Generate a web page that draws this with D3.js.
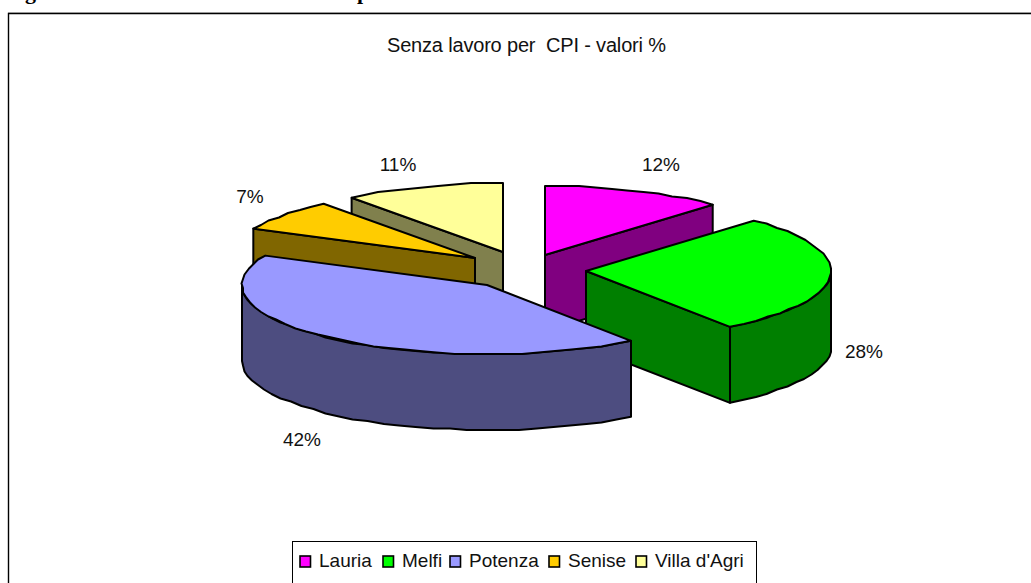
<!DOCTYPE html>
<html><head><meta charset="utf-8">
<script src="https://cdn.jsdelivr.net/npm/d3@7"></script>
<style>html,body{margin:0;padding:0;background:#fff;overflow:hidden}svg{display:block}text{font-family:"Liberation Sans",Arial,sans-serif;fill:#111}</style>
</head><body><svg id="c" width="1031" height="583"></svg>
<script>
const chartTitle = "Senza lavoro per  CPI - valori %";
const categories = ["Lauria","Melfi","Potenza","Senise","Villa d'Agri"];
const values = [12,28,42,7.4,10.6];
const topColors = ["#FF00FF","#00FF00","#9999FF","#FFCC00","#FFFF99"];
const sideColors = ["#800080","#007F00","#4D4D80","#806600","#80804D"];
// exploded-pie layout
const centre = [520,270], radiusX = 245, radiusY = 69, depth = 76;
const explode = [[25,-15],[66,1],[-33,15],[-45,-12],[-17,-18]];
const labelAnchor = [[661,165],[864,352],[302,440],[250,197],[398,165]];
const drawOrder = [4,3,0,1,2];

const svg = d3.select("#c");
// clipped page heading above the frame: only the descenders are visible
[["g",25],["p",357]].forEach(t=>svg.append("text").attr("x",t[1]).attr("y",-1)
  .attr("font-size",22).attr("font-weight","bold").style("font-family","'Liberation Serif',serif").style("fill","#000").text(t[0]));
svg.append("path").attr("d","M8.5 583V13.5H1031").attr("fill","none").attr("stroke","#000").attr("stroke-width",1.4);
svg.append("path").attr("d","M8 12.5H1031").attr("stroke","#999").attr("stroke-width",1);
svg.append("text").attr("x",526.5).attr("y",52).attr("text-anchor","middle")
  .attr("font-size",20).attr("textLength",279).style("white-space","pre").text(chartTitle);

const arcs = d3.pie().sort(null).value(d=>d).startAngle(0).endAngle(2*Math.PI)(values);
const sx = d3.scaleLinear().domain([-1,1]).range([-radiusX,radiusX]);
const sy = d3.scaleLinear().domain([-1,1]).range([radiusY,-radiusY]);
const line = d3.line();
function pt(i,a){
  return [centre[0]+explode[i][0]+sx(Math.sin(a)), centre[1]+explode[i][1]+sy(Math.cos(a))];
}
function rim(i,a0,a1){
  const n = Math.max(2,Math.round((a1-a0)/(4*Math.PI/180)));
  return d3.range(n+1).map(k=>{
    const p = pt(i,a0+(a1-a0)*k/n);
    if(k===0||k===n) return p;
    return [Math.round(p[0]/1.5)*1.5,Math.round(p[1]/1.5)*1.5];
  });
}
const down = p=>[p[0],p[1]+depth];
function face(g,pts,fill){
  g.append("path").attr("d",line(pts)+"Z").attr("fill",fill).attr("stroke","#000")
   .attr("stroke-width",2).attr("stroke-linejoin","round");
}
drawOrder.forEach(i=>{
  const d = arcs[i], g = svg.append("g");
  const apex = [centre[0]+explode[i][0],centre[1]+explode[i][1]];
  const outer = rim(i,d.startAngle,d.endAngle);
  // radial faces turned towards the viewer
  if(Math.sin(d.startAngle)<-1e-6){
    const p = pt(i,d.startAngle);
    face(g,[apex,p,down(p),down(apex)],sideColors[i]);
  }
  if(Math.sin(d.endAngle)>1e-6){
    const p = pt(i,d.endAngle);
    face(g,[apex,p,down(p),down(apex)],sideColors[i]);
  }
  // outer wall: only the part of the rim facing the viewer
  const lo = Math.max(d.startAngle,Math.PI/2), hi = Math.min(d.endAngle,3*Math.PI/2);
  if(hi>lo){
    const w = rim(i,lo,hi);
    face(g,w.concat(w.map(down).reverse()),sideColors[i]);
  }
  face(g,[apex].concat(outer),topColors[i]);
});

labelAnchor.forEach((p,i)=>{
  svg.append("text").attr("x",p[0]).attr("y",p[1]+6).attr("text-anchor","middle")
    .attr("font-size",19).text(Math.round(values[i])+"%");
});

// legend
const lg = svg.append("g");
lg.append("rect").attr("x",292.5).attr("y",541.5).attr("width",464).attr("height",50)
  .attr("fill","#fff").attr("stroke","#000");
const swatchX = [300,383,450,549,636];
categories.forEach((c,i)=>{
  lg.append("rect").attr("x",swatchX[i]).attr("y",556).attr("width",10.5).attr("height",11)
    .attr("fill",topColors[i]).attr("stroke","#000").attr("stroke-width",1.6);
  lg.append("text").attr("x",swatchX[i]+19).attr("y",567).attr("font-size",19).text(c);
});
</script></body></html>
